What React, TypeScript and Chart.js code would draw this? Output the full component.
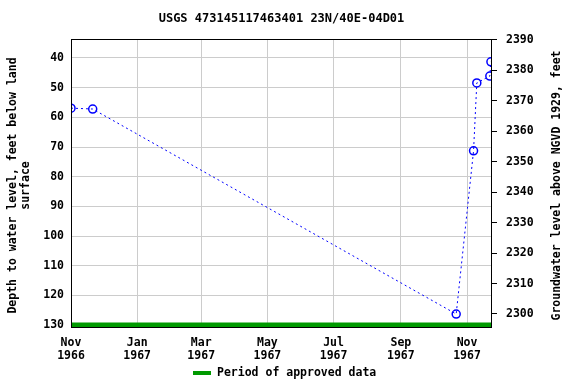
import React, { useEffect, useRef } from "react";
import { Chart, registerables } from "chart.js";

Chart.register(...registerables);

const TITLE = "USGS 473145117463401 23N/40E-04D01";
const LEFT_TITLE = ["Depth to water level, feet below land", "surface"];
const RIGHT_TITLE = "Groundwater level above NGVD 1929, feet";
const LEGEND_LABEL = "Period of approved data";

const START = Date.UTC(1966, 10, 1);
const dayOf = (y: number, m: number, d: number) => (Date.UTC(y, m - 1, d) - START) / 86400000;

const sampleDates: [number, number, number][] = [
  [1966, 11, 1],
  [1966, 11, 21],
  [1967, 10, 22],
  [1967, 11, 7],
  [1967, 11, 10],
  [1967, 11, 22],
  [1967, 11, 23],
];
const depths = [56.9, 57.2, 126.3, 71.3, 48.4, 46.1, 41.3];

const xTickDates: [number, number, number][] = [
  [1966, 11, 1],
  [1967, 1, 1],
  [1967, 3, 1],
  [1967, 5, 1],
  [1967, 7, 1],
  [1967, 9, 1],
  [1967, 11, 1],
];
const xTickLabels = [
  ["Nov", "1966"],
  ["Jan", "1967"],
  ["Mar", "1967"],
  ["May", "1967"],
  ["Jul", "1967"],
  ["Sep", "1967"],
  ["Nov", "1967"],
];
const leftTicks = [40, 50, 60, 70, 80, 90, 100, 110, 120, 130];
const rightTicks = [2300, 2310, 2320, 2330, 2340, 2350, 2360, 2370, 2380, 2390];
const approvedStart: [number, number, number] = [1966, 11, 1];
const approvedEnd: [number, number, number] = [1967, 11, 24];
const approvedDepth = 130;

const X_MIN = 0;
const X_MAX = dayOf(1967, 11, 24);
const Y_MIN = 33.6;
const Y_MAX = 131.0;
const Y2_MIN = 2295.4;
const Y2_MAX = 2390.3;

const FONT = "'DejaVu Sans Mono', monospace";
const BLUE = "#0000ff";
const GREEN = "#009a00";

const decorPlugin = {
  id: "decor",
  afterDraw(chart: any) {
    const ctx = chart.ctx;
    const a = chart.chartArea;
    ctx.save();
    ctx.fillStyle = "#000";
    ctx.font = `bold 12px ${FONT}`;
    ctx.textAlign = "center";
    ctx.textBaseline = "middle";
    ctx.fillText(TITLE, (a.left + a.right) / 2, 19);

    const midY = (a.top + a.bottom) / 2 + 2;
    ctx.font = `bold 11.5px ${FONT}`;
    ctx.save();
    ctx.translate(13, midY);
    ctx.rotate(-Math.PI / 2);
    ctx.fillText(LEFT_TITLE[0], 0, 0);
    ctx.fillText(LEFT_TITLE[1], 0, 13);
    ctx.restore();

    ctx.save();
    ctx.translate(557, midY);
    ctx.rotate(-Math.PI / 2);
    ctx.fillText(RIGHT_TITLE, 0, 0);
    ctx.restore();

    // legend
    ctx.strokeStyle = GREEN;
    ctx.lineWidth = 4;
    ctx.beginPath();
    ctx.moveTo(193, 373);
    ctx.lineTo(211, 373);
    ctx.stroke();
    ctx.textAlign = "left";
    ctx.fillText(LEGEND_LABEL, 217, 373);

    // frame
    ctx.strokeStyle = "#000";
    ctx.lineWidth = 1;
    ctx.strokeRect(a.left + 0.5, a.top + 0.5, a.right - a.left - 1, a.bottom - a.top - 1);
    ctx.restore();
  },
};

export default function App() {
  const ref = useRef<HTMLCanvasElement>(null);
  useEffect(() => {
    document.body.style.margin = "0";
    const points = sampleDates.map((d, i) => ({ x: dayOf(d[0], d[1], d[2]), y: depths[i] }));
    const approved = [
      { x: dayOf(...approvedStart), y: approvedDepth },
      { x: dayOf(...approvedEnd), y: approvedDepth },
    ];
    const xTickValues = xTickDates.map((d) => dayOf(d[0], d[1], d[2]));
    const chart = new Chart(ref.current!, {
      type: "scatter",
      data: {
        datasets: [
          {
            label: LEGEND_LABEL,
            data: approved,
            showLine: true,
            borderColor: GREEN,
            borderWidth: 5,
            pointRadius: 0,
            yAxisID: "y",
            order: 2,
          },
          {
            label: "Depth",
            data: points,
            showLine: true,
            borderColor: BLUE,
            borderWidth: 1,
            borderDash: [2, 3],
            pointRadius: 4,
            pointBorderWidth: 1.5,
            pointBorderColor: BLUE,
            pointBackgroundColor: "rgba(0,0,0,0)",
            pointStyle: "circle",
            yAxisID: "y",
            order: 1,
          },
        ],
      },
      options: {
        animation: false,
        responsive: false,
        maintainAspectRatio: false,
        layout: { padding: { top: 39, left: 0, right: 0, bottom: 0 } },
        plugins: { legend: { display: false }, title: { display: false }, tooltip: { enabled: false } },
        scales: {
          x: {
            type: "linear",
            position: "bottom",
            min: X_MIN,
            max: X_MAX,
            afterFit: (s: any) => {
              s.height = 56;
            },
            afterBuildTicks: (s: any) => {
              s.ticks = xTickValues.map((v) => ({ value: v }));
            },
            grid: { color: "#cccccc", drawTicks: false, lineWidth: 1 },
            border: { display: false },
            ticks: {
              padding: 8,
              maxRotation: 0,
              autoSkip: false,
              color: "#000",
              font: { family: FONT, size: 11.5, weight: "bold", lineHeight: 1.15 },
              callback: (v: any) => {
                const i = xTickValues.indexOf(v);
                return i >= 0 ? xTickLabels[i] : "";
              },
            },
          },
          y: {
            type: "linear",
            position: "left",
            reverse: true,
            min: Y_MIN,
            max: Y_MAX,
            afterFit: (s: any) => {
              s.width = 71;
            },
            afterBuildTicks: (s: any) => {
              s.ticks = leftTicks.map((v) => ({ value: v }));
            },
            grid: { color: "#cccccc", drawTicks: false },
            border: { display: false },
            ticks: {
              padding: 7,
              color: "#000",
              font: { family: FONT, size: 11.5, weight: "bold" },
              callback: (v: any) => String(v),
            },
          },
          y2: {
            type: "linear",
            position: "right",
            min: Y2_MIN,
            max: Y2_MAX,
            afterFit: (s: any) => {
              s.width = 84;
            },
            afterBuildTicks: (s: any) => {
              s.ticks = rightTicks.map((v) => ({ value: v }));
            },
            grid: { drawOnChartArea: false, color: "#000", tickLength: 5, drawTicks: true },
            border: { display: false },
            ticks: {
              padding: 9,
              color: "#000",
              font: { family: FONT, size: 11.5, weight: "bold" },
              callback: (v: any) => String(v),
            },
          },
        },
      },
      plugins: [decorPlugin],
    } as any);
    return () => chart.destroy();
  }, []);
  return (
    <div style={{ position: "absolute", left: 0, top: 0, width: 576, height: 384 }}>
      <canvas ref={ref} width={576} height={384} style={{ width: 576, height: 384, display: "block" }} />
    </div>
  );
}
